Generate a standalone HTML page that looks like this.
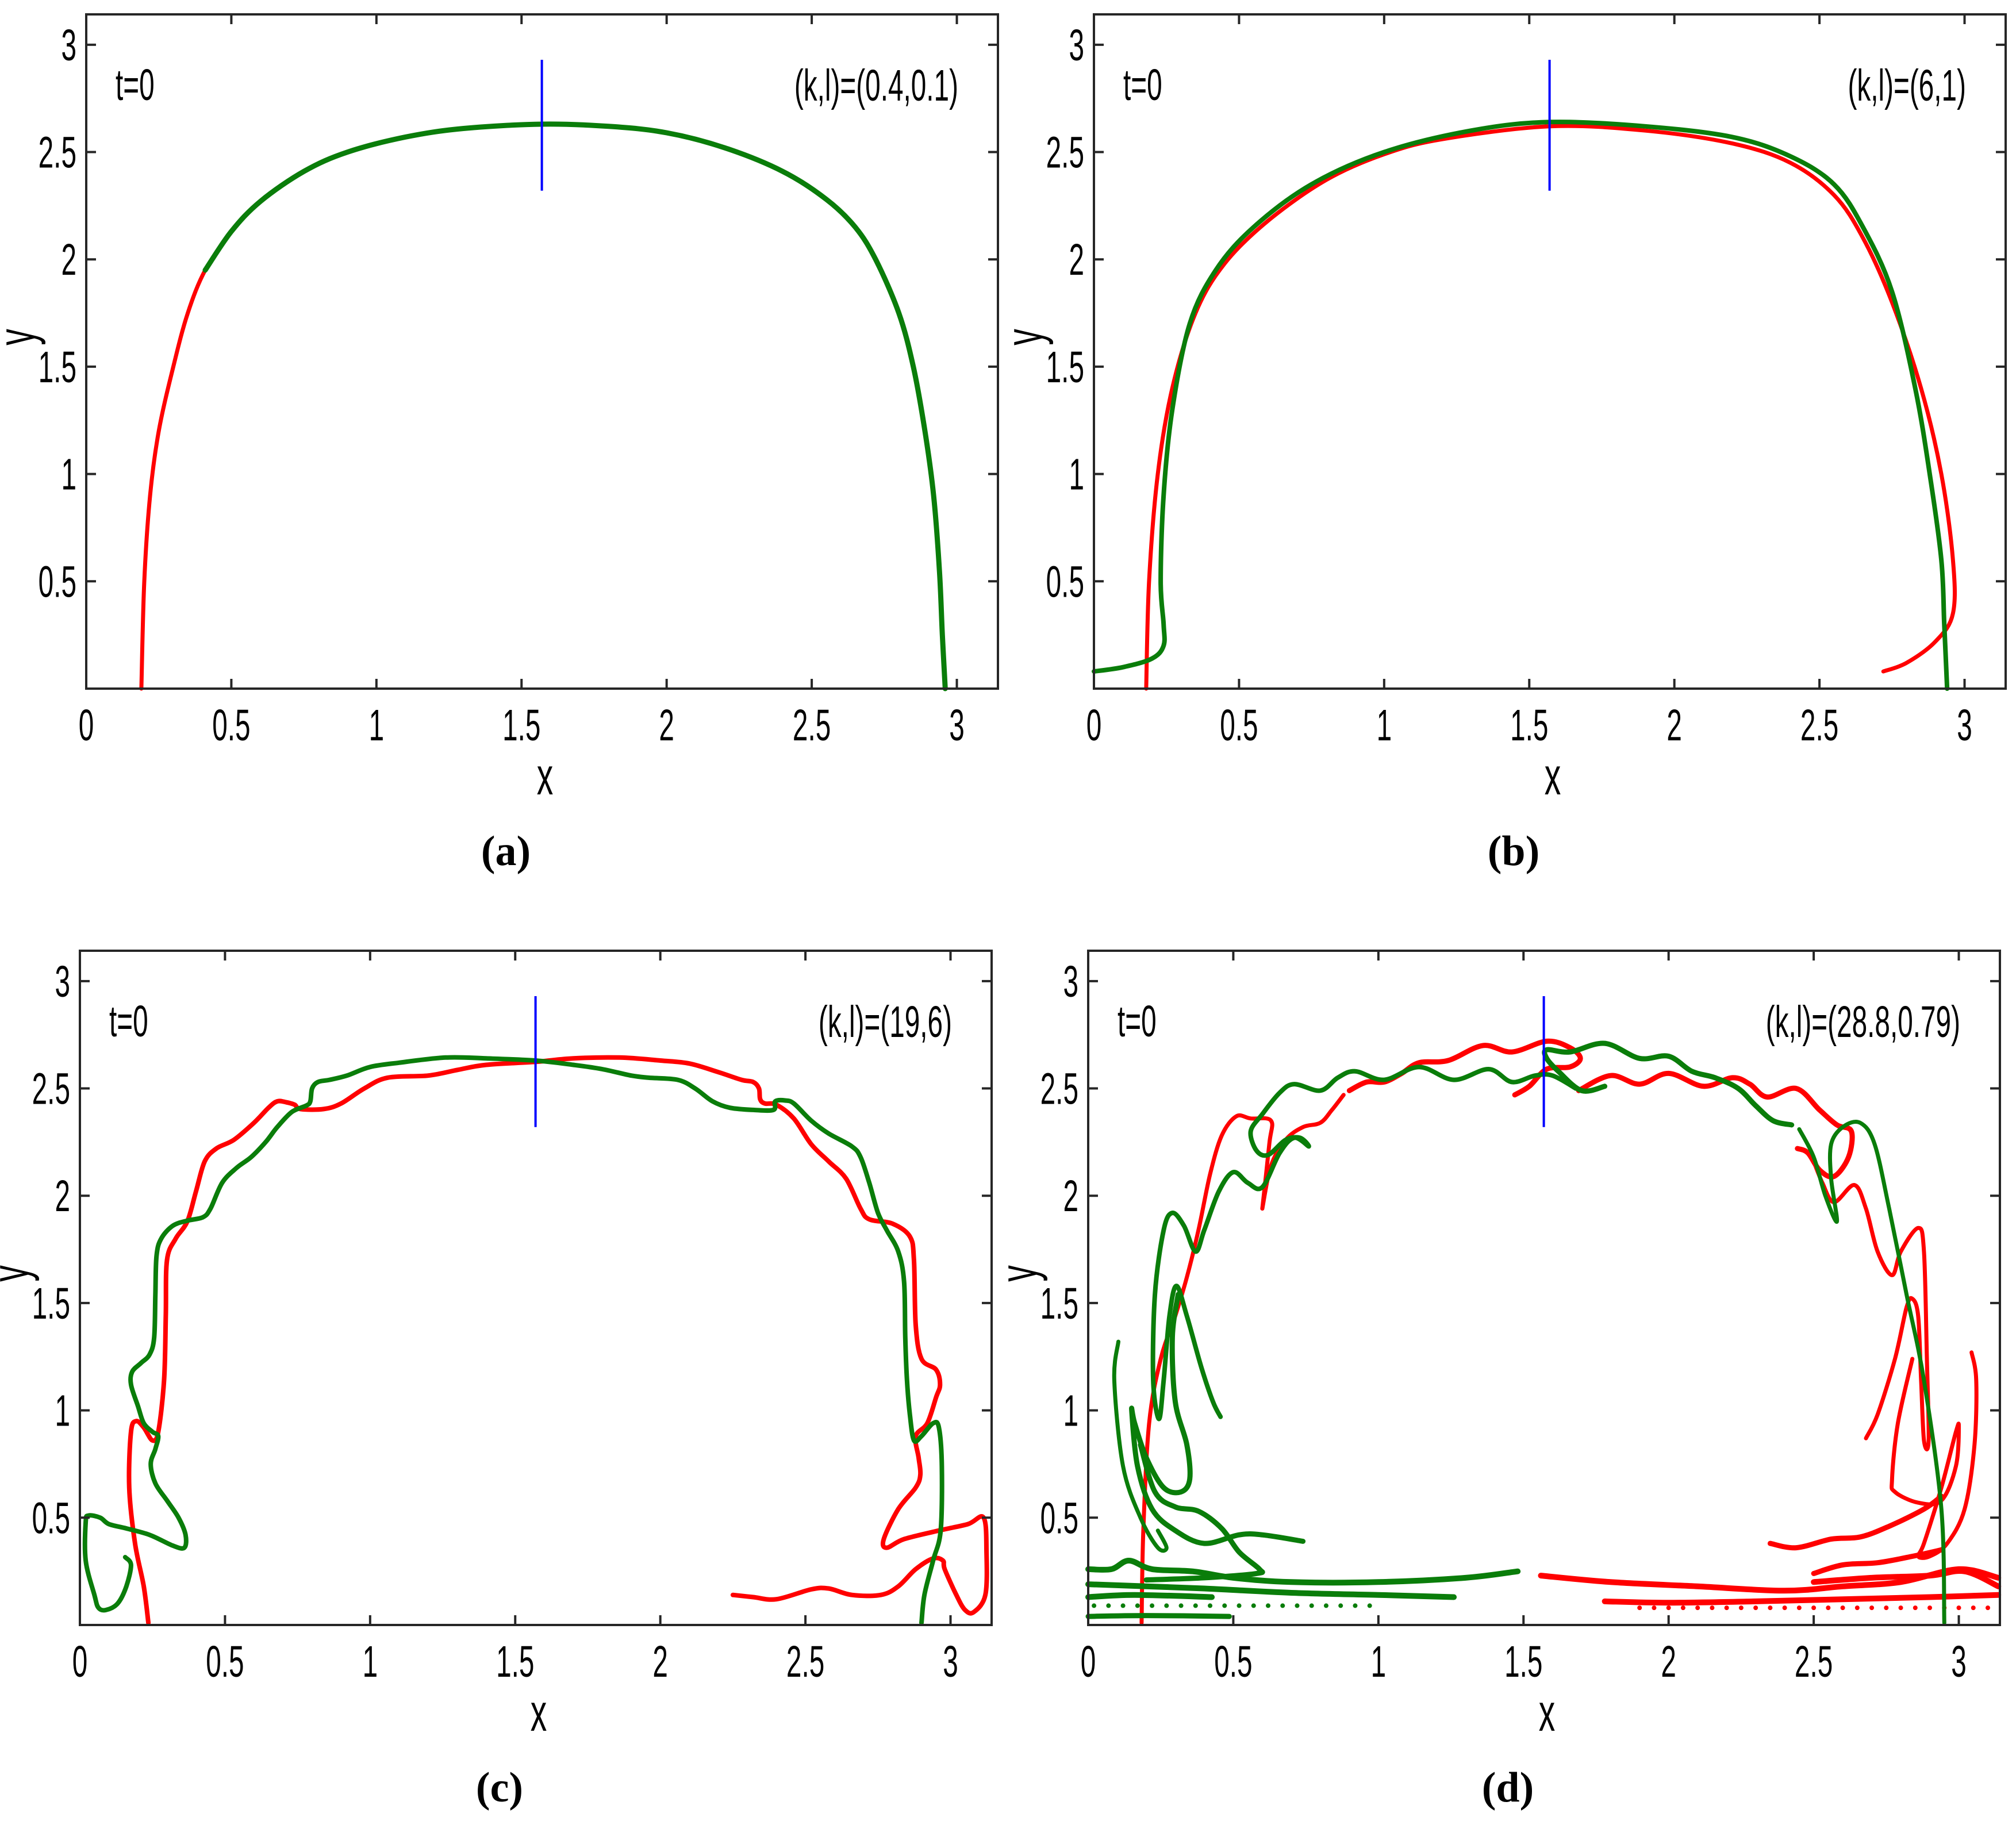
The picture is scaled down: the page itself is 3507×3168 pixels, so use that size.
<!DOCTYPE html>
<html><head><meta charset="utf-8"><style>
html,body{margin:0;padding:0;background:#fff;}
svg{display:block;}
text{font-family:"Liberation Sans",sans-serif;}
text.cap{font-family:"Liberation Serif",serif;font-weight:bold;}
</style></head><body>
<svg id="fig" xmlns="http://www.w3.org/2000/svg" width="3507" height="3168" viewBox="0 0 3507 3168"></svg>
<script>
// ---------- data (x, y in axis units) ----------
const xTicks = [0, 0.5, 1, 1.5, 2, 2.5, 3];
const xTickLabels = ["0","0.5","1","1.5","2","2.5","3"];
const yTicks = [0.5, 1, 1.5, 2, 2.5, 3];
const yTickLabels = ["0.5","1","1.5","2","2.5","3"];
const markerX = 1.57;
const markerY = [2.32, 2.93];

const aRed = [[0.19,0],[0.2,0.5],[0.22,0.9],[0.25,1.2],[0.3,1.5],[0.35,1.75],[0.41,1.95],[0.5,2.13]];
const aGreen = [[0.41,1.95],[0.5,2.13],[0.6,2.27],[0.75,2.41],[0.9,2.5],[1.1,2.57],[1.3,2.61],[1.57,2.63],[1.8,2.62],[2.0,2.59],[2.2,2.52],[2.4,2.41],[2.55,2.28],[2.65,2.15],[2.72,2.0],[2.8,1.75],[2.85,1.5],[2.89,1.2],[2.92,0.9],[2.94,0.55],[2.95,0.25],[2.96,0]];

const bRed = [[0.18,0],[0.19,0.5],[0.22,1.0],[0.27,1.4],[0.35,1.75],[0.45,1.98],[0.6,2.18],[0.8,2.37],[1.0,2.49],[1.2,2.56],[1.57,2.62],[1.9,2.6],[2.2,2.54],[2.4,2.45],[2.55,2.3],[2.65,2.1],[2.75,1.8],[2.85,1.4],[2.92,1.0],[2.96,0.6],[2.96,0.35],[2.9,0.22],[2.8,0.12],[2.72,0.08]];
const bGreen = [[0,0.08],[0.1,0.1],[0.2,0.14],[0.24,0.2],[0.24,0.3],[0.23,0.5],[0.24,0.9],[0.27,1.3],[0.33,1.7],[0.42,1.95],[0.55,2.15],[0.75,2.35],[1.0,2.5],[1.3,2.6],[1.57,2.64],[1.9,2.62],[2.2,2.57],[2.4,2.48],[2.55,2.35],[2.65,2.15],[2.75,1.85],[2.83,1.4],[2.88,1.0],[2.92,0.6],[2.93,0.3],[2.94,0]];

const cRed = [[0.236,0.01],[0.22,0.18],[0.19,0.38],[0.17,0.64],[0.176,0.90],[0.194,0.95],[0.22,0.92],[0.25,0.86],[0.27,0.90],[0.29,1.14],[0.296,1.44],[0.30,1.70],[0.33,1.80],[0.37,1.88],[0.40,2.02],[0.43,2.16],[0.47,2.22],[0.53,2.26],[0.60,2.34],[0.65,2.41],[0.68,2.44],[0.71,2.436],[0.74,2.424],[0.76,2.404],[0.84,2.404],[0.90,2.43],[0.98,2.50],[1.06,2.55],[1.20,2.56],[1.30,2.586],[1.40,2.61],[1.57,2.624],[1.70,2.64],[1.86,2.644],[2.00,2.63],[2.10,2.616],[2.20,2.576],[2.28,2.54],[2.32,2.53],[2.34,2.50],[2.344,2.45],[2.36,2.43],[2.40,2.424],[2.46,2.36],[2.52,2.24],[2.58,2.16],[2.64,2.08],[2.69,1.94],[2.72,1.89],[2.80,1.87],[2.86,1.81],[2.874,1.70],[2.88,1.40],[2.90,1.24],[2.95,1.19],[2.964,1.12],[2.95,1.06],[2.92,0.94],[2.88,0.88],[2.89,0.78],[2.896,0.70],[2.88,0.64],[2.82,0.54],[2.77,0.40],[2.78,0.36],[2.84,0.40],[2.96,0.44],[3.06,0.47],[3.114,0.50],[3.124,0.34],[3.12,0.14],[3.08,0.06],[3.05,0.07],[3.02,0.14],[2.98,0.26],[2.974,0.30],[2.94,0.31],[2.88,0.26],[2.82,0.18],[2.76,0.14],[2.66,0.14],[2.58,0.17],[2.52,0.166],[2.40,0.12],[2.32,0.13],[2.25,0.14]];
const cGreen = [[0.156,0.316],[0.176,0.28],[0.16,0.18],[0.13,0.10],[0.09,0.07],[0.064,0.08],[0.05,0.14],[0.02,0.30],[0.02,0.48],[0.03,0.51],[0.07,0.50],[0.10,0.47],[0.16,0.45],[0.24,0.42],[0.32,0.37],[0.36,0.36],[0.364,0.42],[0.34,0.50],[0.30,0.58],[0.26,0.66],[0.244,0.75],[0.26,0.82],[0.27,0.88],[0.25,0.90],[0.22,0.94],[0.20,1.02],[0.176,1.12],[0.18,1.18],[0.21,1.22],[0.24,1.26],[0.256,1.34],[0.26,1.54],[0.264,1.72],[0.28,1.80],[0.32,1.86],[0.37,1.884],[0.424,1.90],[0.45,1.94],[0.49,2.06],[0.54,2.13],[0.59,2.18],[0.64,2.25],[0.68,2.32],[0.73,2.39],[0.78,2.42],[0.794,2.44],[0.80,2.50],[0.82,2.53],[0.86,2.54],[0.92,2.56],[1.00,2.60],[1.10,2.62],[1.26,2.644],[1.40,2.64],[1.57,2.63],[1.70,2.61],[1.80,2.59],[1.90,2.56],[1.96,2.55],[2.06,2.54],[2.12,2.50],[2.18,2.44],[2.24,2.41],[2.32,2.40],[2.39,2.40],[2.396,2.44],[2.43,2.444],[2.46,2.43],[2.52,2.35],[2.58,2.29],[2.66,2.23],[2.69,2.18],[2.72,2.06],[2.75,1.92],[2.78,1.84],[2.82,1.74],[2.84,1.60],[2.844,1.34],[2.85,1.14],[2.86,0.98],[2.874,0.86],[2.90,0.88],[2.94,0.94],[2.96,0.92],[2.97,0.74],[2.966,0.44],[2.94,0.30],[2.91,0.14],[2.90,0.01]];

const dRed1 = [[0.184,0.01],[0.19,0.44],[0.21,0.94],[0.25,1.24],[0.30,1.44],[0.34,1.62],[0.38,1.84],[0.42,2.10],[0.46,2.28],[0.51,2.37],[0.56,2.36],[0.63,2.35],[0.624,2.24],[0.60,1.94]];
const dRed2 = [[0.60,1.94],[0.63,2.14],[0.68,2.26],[0.74,2.32],[0.80,2.34],[0.84,2.40],[0.88,2.47]];
const dRed3 = [[0.90,2.49],[0.96,2.53],[1.02,2.53],[1.08,2.57],[1.14,2.62],[1.24,2.63],[1.36,2.70],[1.46,2.67],[1.58,2.72],[1.66,2.69],[1.696,2.64],[1.66,2.60],[1.58,2.59],[1.52,2.51],[1.47,2.47]];
const dRed4 = [[1.69,2.49],[1.80,2.56],[1.90,2.52],[2.00,2.57],[2.12,2.51],[2.22,2.55],[2.28,2.52],[2.34,2.46],[2.44,2.50],[2.52,2.40],[2.58,2.33],[2.63,2.30],[2.62,2.18],[2.57,2.09],[2.52,2.12],[2.48,2.20],[2.444,2.22]];
const dRed5 = [[2.50,2.16],[2.53,2.06],[2.57,1.97],[2.64,2.05],[2.68,1.94],[2.72,1.74],[2.77,1.63],[2.80,1.74],[2.86,1.85],[2.88,1.74],[2.89,1.24],[2.896,0.86],[2.88,0.86],[2.87,1.14],[2.86,1.44],[2.84,1.52],[2.82,1.48],[2.78,1.24],[2.72,0.98],[2.68,0.87]];
const dRed6 = [[3.044,1.27],[3.06,1.14],[3.054,0.84],[3.02,0.54],[2.96,0.38],[2.90,0.32],[2.86,0.32],[2.88,0.38],[2.94,0.64],[2.99,0.90],[3.00,0.92],[2.99,0.74],[2.94,0.58],[2.86,0.57],[2.78,0.62],[2.77,0.68],[2.79,0.94],[2.84,1.24]];
const dRed7 = [[2.35,0.38],[2.44,0.36],[2.56,0.40],[2.66,0.41],[2.76,0.46],[2.88,0.54],[2.94,0.60]];
const dRed8 = [[2.50,0.24],[2.60,0.28],[2.72,0.29],[2.84,0.32],[2.94,0.35]];
const dRed9 = [[1.56,0.23],[1.80,0.20],[2.10,0.18],[2.40,0.16],[2.60,0.18],[2.80,0.20],[3.00,0.26],[3.136,0.22]];
const dRed10 = [[2.50,0.20],[2.70,0.22],[2.90,0.23],[3.02,0.25],[3.136,0.18]];
const dRed11 = [[1.78,0.11],[2.00,0.104],[2.30,0.11],[2.60,0.12],[2.90,0.13],[3.136,0.14]];
const dRedDotsX = [1.9,1.95,2.0,2.05,2.1,2.15,2.2,2.25,2.3,2.35,2.4,2.45,2.5,2.55,2.6,2.65,2.7,2.75,2.8,2.85,2.9,2.95,3.0,3.05,3.1];
const dRedDotsY = 0.08;

const dGreen1 = [[2.95,0.01],[2.94,0.54],[2.88,1.14],[2.82,1.54],[2.76,1.94],[2.71,2.24],[2.66,2.34],[2.60,2.32],[2.56,2.24],[2.56,2.08],[2.58,1.88],[2.54,2.00],[2.50,2.18],[2.45,2.31]];
const dGreen2 = [[2.424,2.33],[2.36,2.35],[2.30,2.42],[2.24,2.50],[2.16,2.55],[2.08,2.58],[2.00,2.65],[1.90,2.64],[1.78,2.71],[1.66,2.67],[1.58,2.68],[1.58,2.64],[1.62,2.58],[1.70,2.49],[1.78,2.51]];
const dGreen3 = [[1.68,2.50],[1.60,2.56],[1.54,2.56],[1.46,2.53],[1.38,2.59],[1.26,2.54],[1.14,2.60],[1.02,2.54],[0.92,2.58],[0.86,2.55],[0.80,2.49],[0.71,2.52],[0.66,2.48],[0.60,2.38],[0.56,2.30],[0.58,2.21],[0.62,2.19],[0.68,2.26],[0.73,2.27],[0.76,2.23],[0.71,2.27],[0.66,2.20],[0.60,2.04],[0.55,2.06],[0.50,2.11],[0.45,2.02],[0.40,1.84],[0.37,1.74],[0.33,1.86],[0.29,1.92],[0.26,1.84],[0.23,1.54],[0.224,1.14],[0.244,0.96],[0.26,1.14],[0.28,1.44],[0.304,1.58],[0.34,1.44],[0.39,1.20],[0.43,1.04],[0.456,0.97]];
const dGreen4 = [[0.31,1.54],[0.29,1.34],[0.30,1.04],[0.34,0.84],[0.35,0.68],[0.32,0.62],[0.26,0.64],[0.20,0.78],[0.16,0.94],[0.15,1.00],[0.17,0.74],[0.22,0.54],[0.30,0.44],[0.40,0.38],[0.52,0.42],[0.60,0.42],[0.74,0.39]];
const dGreen5 = [[0.18,0.84],[0.23,0.62],[0.30,0.55],[0.38,0.53],[0.46,0.45],[0.52,0.34],[0.59,0.26],[0.58,0.24],[0.40,0.22],[0.20,0.21]];
const dGreen6 = [[0.104,1.32],[0.09,1.14],[0.12,0.74],[0.18,0.50],[0.24,0.36],[0.27,0.36],[0.24,0.44]];
const dGreen7 = [[0,0.26],[0.08,0.26],[0.14,0.30],[0.22,0.26],[0.36,0.25],[0.50,0.22],[0.70,0.20],[1.00,0.20],[1.30,0.22],[1.48,0.25]];
const dGreen8 = [[0,0.19],[0.20,0.18],[0.40,0.17],[0.70,0.15],[1.00,0.14],[1.26,0.13]];
const dGreen9 = [[0,0.13],[0.16,0.14],[0.426,0.13]];
const dGreen10 = [[0,0.04],[0.20,0.044],[0.486,0.04]];
const dGreenDotsX = [0.02,0.07,0.12,0.17,0.22,0.27,0.32,0.37,0.42,0.47,0.52,0.57,0.62,0.67,0.72,0.77,0.82,0.87,0.92,0.97];
const dGreenDotsY = 0.09;

// ---------- drawing ----------
const NS = "http://www.w3.org/2000/svg";
const svg = document.getElementById("fig");
const W = 1586, H = 1173, XMAX = Math.PI, YMAX = Math.PI;
const RED = "#ff0000", GREEN = "#0a7d0a", AX = "#262626";

function mk(tag, attrs, parent) {
  const e = document.createElementNS(NS, tag);
  for (const k in attrs) e.setAttribute(k, attrs[k]);
  (parent || svg).appendChild(e);
  return e;
}
function ctext(parent, x, y, str, size, anchor, sx) {
  const t = mk("text", {transform: `translate(${x},${y}) scale(${sx},1)`, "font-size": size, "text-anchor": anchor, fill: "#000"}, parent);
  t.textContent = str;
  return t;
}
// Catmull-Rom smoothing through pixel points
function smoothPath(pts) {
  if (pts.length < 3) return pts.map((p, i) => (i ? "L" : "M") + p[0].toFixed(1) + " " + p[1].toFixed(1)).join(" ");
  let d = "M" + pts[0][0].toFixed(1) + " " + pts[0][1].toFixed(1);
  for (let i = 0; i < pts.length - 1; i++) {
    const p0 = pts[i - 1] || pts[i], p1 = pts[i], p2 = pts[i + 1], p3 = pts[i + 2] || p2;
    const c1x = p1[0] + (p2[0] - p0[0]) / 6, c1y = p1[1] + (p2[1] - p0[1]) / 6;
    const c2x = p2[0] - (p3[0] - p1[0]) / 6, c2y = p2[1] - (p3[1] - p1[1]) / 6;
    d += ` C${c1x.toFixed(1)} ${c1y.toFixed(1)} ${c2x.toFixed(1)} ${c2y.toFixed(1)} ${p2[0].toFixed(1)} ${p2[1].toFixed(1)}`;
  }
  return d;
}

function panel(id, L, T, lines, label, caption) {
  const g = mk("g", {});
  
  
  const B = T + H;
  const sx = v => L + v / XMAX * W;
  const sy = v => B - v / YMAX * H;

  lines.forEach(ln => {
    if (ln.dotsX) {
      ln.dotsX.forEach(xv => {
        const c = mk("circle", {cx: sx(xv), cy: sy(ln.dotsY), r: 4, fill: ln.color}, g);
        
        
      });
      return;
    }
    const d = smoothPath(ln.data.map(p => [sx(p[0]), sy(p[1])]));
    const p = mk("path", {d: d, fill: "none", stroke: ln.color, "stroke-width": ln.w, "stroke-linejoin": "round", "stroke-linecap": "round"}, g);
    
    
  });

  const m = mk("line", {x1: sx(markerX), x2: sx(markerX), y1: sy(markerY[0]), y2: sy(markerY[1]), stroke: "#0000ff", "stroke-width": 4}, g);
  
  

  const box = mk("rect", {x: L, y: T, width: W, height: H, fill: "none", stroke: AX, "stroke-width": 4}, g);
  
  

  xTicks.forEach((v, i) => {
    const x = sx(v);
    mk("line", {x1: x, x2: x, y1: B, y2: B - 17, stroke: AX, "stroke-width": 4}, g);
    mk("line", {x1: x, x2: x, y1: T, y2: T + 17, stroke: AX, "stroke-width": 4}, g);
    const t = ctext(g, x, B + 90, xTickLabels[i], 77, "middle", 0.62);
    
    
  });
  yTicks.forEach((v, i) => {
    const y = sy(v);
    mk("line", {x1: L, x2: L + 17, y1: y, y2: y, stroke: AX, "stroke-width": 4}, g);
    mk("line", {x1: L + W, x2: L + W - 17, y1: y, y2: y, stroke: AX, "stroke-width": 4}, g);
    const t = ctext(g, L - 17, y + 27, yTickLabels[i], 77, "end", 0.62);
    
    
  });

  const xl = ctext(g, L + W / 2 + 5, B + 184, "x", 92, "middle", 0.62);
  
  
  const yl = mk("text", {transform: `translate(${L - 90},${T + H / 2 - 25}) rotate(-90) scale(0.62,1)`, "font-size": 92, "text-anchor": "middle", fill: "#000"}, g);
  yl.textContent = "y";
  
  

  const t0 = ctext(g, L + 51, T + 149, "t=0", 77, "start", 0.62);
  
  
  const kl = ctext(g, L + 1517, T + 150, label, 77, "end", 0.62);
  
  

  const cap = mk("text", {x: L + 730, y: B + 307, "font-size": 74, "text-anchor": "middle", fill: "#000", class: "cap"}, g);
  cap.textContent = caption;
  
  
}

const thin = 7, thick = 10;
panel("a", 150, 25, [
  {name: "curve-red", data: aRed, color: RED, w: 7},
  {name: "curve-green", data: aGreen, color: GREEN, w: 9}
], "(k,l)=(0.4,0.1)", "(a)");
panel("b", 1903, 25, [
  {name: "curve-red", data: bRed, color: RED, w: 7},
  {name: "curve-green", data: bGreen, color: GREEN, w: 8}
], "(k,l)=(6,1)", "(b)");
panel("c", 139, 1654, [
  {name: "curve-red", data: cRed, color: RED, w: 8},
  {name: "curve-green", data: cGreen, color: GREEN, w: 8}
], "(k,l)=(19,6)", "(c)");
panel("d", 1893, 1654, [
  {name: "curve-red-1", data: dRed1, color: RED, w: thin},
  {name: "curve-red-2", data: dRed2, color: RED, w: thin},
  {name: "curve-red-3", data: dRed3, color: RED, w: 9},
  {name: "curve-red-4", data: dRed4, color: RED, w: 9},
  {name: "curve-red-5", data: dRed5, color: RED, w: thin},
  {name: "curve-red-6", data: dRed6, color: RED, w: thin},
  {name: "curve-red-7", data: dRed7, color: RED, w: 9},
  {name: "curve-red-8", data: dRed8, color: RED, w: 9},
  {name: "curve-red-9", data: dRed9, color: RED, w: thick},
  {name: "curve-red-10", data: dRed10, color: RED, w: thick},
  {name: "curve-red-11", data: dRed11, color: RED, w: thick},
  {name: "red-dots", dotsX: dRedDotsX, dotsY: dRedDotsY, color: RED},
  {name: "curve-green-4", data: dGreen4, color: GREEN, w: 9},
  {name: "curve-green-5", data: dGreen5, color: GREEN, w: 9},
  {name: "curve-green-6", data: dGreen6, color: GREEN, w: thin},
  {name: "curve-green-7", data: dGreen7, color: GREEN, w: thick},
  {name: "curve-green-8", data: dGreen8, color: GREEN, w: thick},
  {name: "curve-green-9", data: dGreen9, color: GREEN, w: thick},
  {name: "curve-green-10", data: dGreen10, color: GREEN, w: 9},
  {name: "green-dots", dotsX: dGreenDotsX, dotsY: dGreenDotsY, color: GREEN},
  {name: "curve-green-1", data: dGreen1, color: GREEN, w: thin},
  {name: "curve-green-2", data: dGreen2, color: GREEN, w: 9},
  {name: "curve-green-3", data: dGreen3, color: GREEN, w: 8}
], "(k,l)=(28.8,0.79)", "(d)");
</script>
</body></html>
